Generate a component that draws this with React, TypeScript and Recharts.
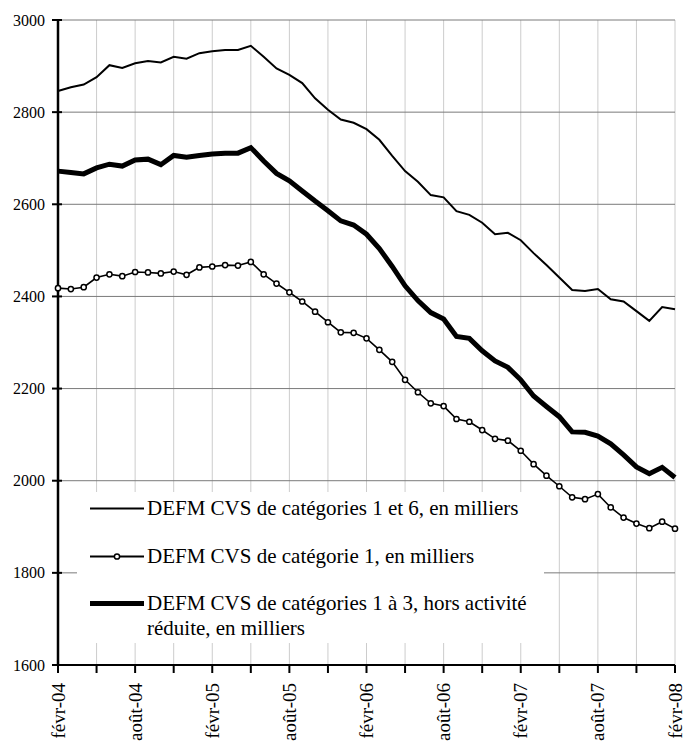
import React from "react";
import { LineChart, Line, XAxis, YAxis, CartesianGrid } from "recharts";

const months = [
  "févr-04","mars-04","avr-04","mai-04","juin-04","juil-04","août-04","sept-04","oct-04","nov-04","déc-04","janv-05",
  "févr-05","mars-05","avr-05","mai-05","juin-05","juil-05","août-05","sept-05","oct-05","nov-05","déc-05","janv-06",
  "févr-06","mars-06","avr-06","mai-06","juin-06","juil-06","août-06","sept-06","oct-06","nov-06","déc-06","janv-07",
  "févr-07","mars-07","avr-07","mai-07","juin-07","juil-07","août-07","sept-07","oct-07","nov-07","déc-07","janv-08",
  "févr-08",
];

const cat16 = [
  2846, 2854, 2860, 2876, 2902, 2896, 2906, 2911, 2908, 2920, 2916, 2928,
  2932, 2935, 2935, 2944, 2920, 2895, 2881, 2863, 2830, 2805, 2784, 2777,
  2763, 2740, 2705, 2672, 2649, 2620, 2615, 2585, 2577, 2560, 2535, 2538,
  2522, 2494, 2468, 2441, 2414, 2412, 2416, 2394, 2389, 2368, 2347, 2377,
  2372,
];

const cat1 = [
  2418, 2416, 2420, 2441, 2448, 2444, 2453, 2452, 2450, 2454, 2447, 2463,
  2465, 2468, 2467, 2475, 2448, 2428, 2409, 2389, 2367, 2344, 2322, 2321,
  2309, 2284, 2258, 2219, 2192, 2168, 2162, 2134, 2128, 2110, 2091, 2087,
  2065, 2036, 2011, 1988, 1964, 1960, 1971, 1942, 1920, 1907, 1897, 1911,
  1896,
];

const cat13 = [
  2672, 2669, 2666, 2679, 2687, 2683, 2696, 2698, 2686, 2706, 2702, 2706,
  2709, 2711, 2711, 2723, 2694, 2667, 2651, 2629, 2607, 2586, 2564, 2555,
  2535, 2504, 2465, 2423, 2391, 2365, 2351, 2313, 2309, 2282, 2260, 2246,
  2219, 2184, 2161, 2139, 2106, 2105, 2097, 2080, 2056, 2030, 2015, 2029,
  2007,
];

const yTicks = [1600, 1800, 2000, 2200, 2400, 2600, 2800, 3000];
const xTicks = [0, 3, 6, 9, 12, 15, 18, 21, 24, 27, 30, 33, 36, 39, 42, 45, 48];

const legendLabels = [
  "DEFM CVS de catégories 1 et 6, en milliers",
  "DEFM CVS de catégorie 1, en milliers",
  "DEFM CVS de catégories 1 à 3, hors activité réduite, en milliers",
];

const data = months.map((m, i) => ({
  i,
  label: m,
  a: cat16[i],
  b: cat1[i],
  c: cat13[i],
}));

const FONT = '"Liberation Serif", "Times New Roman", serif';

const YTick = (props: any) => {
  const { x, y, payload } = props;
  return (
    <g>
      <line x1={x - 6} x2={x + 4} y1={y} y2={y} stroke="#000" strokeWidth={2} />
      <text
        x={x - 13}
        y={y}
        textAnchor="end"
        dominantBaseline="central"
        fontFamily={FONT}
        fontSize={16}
        fill="#000"
      >
        {payload.value}
      </text>
    </g>
  );
};

const XTick = (props: any) => {
  const { x, y, payload } = props;
  const idx = payload.value as number;
  const show = idx % 6 === 0;
  return (
    <g>
      <line x1={x} x2={x} y1={y} y2={y + 8} stroke="#000" strokeWidth={2} />
      {show && (
        <text
          transform={`translate(${x},${y + 18}) rotate(-90)`}
          textAnchor="end"
          dominantBaseline="central"
          fontFamily={FONT}
          fontSize={19}
          fill="#000"
        >
          {months[idx]}
        </text>
      )}
    </g>
  );
};

const LegendBox = () => {
  const row = (label: string, kind: number, top: number) => (
    <div
      key={label}
      style={{ position: "absolute", left: 0, top, display: "flex", alignItems: "flex-start" }}
    >
      <svg width={70} height={25} style={{ flex: "none" }}>
        <line
          x1={13}
          x2={67}
          y1={12.5}
          y2={12.5}
          stroke="#000"
          strokeWidth={kind === 2 ? 5 : 2}
        />
        {kind === 1 && (
          <circle cx={40} cy={12.5} r={2.6} fill="#fff" stroke="#000" strokeWidth={1.5} />
        )}
      </svg>
      <div
        style={{
          fontFamily: FONT,
          fontSize: 21,
          lineHeight: "25px",
          color: "#000",
          width: 400,
        }}
      >
        {label}
      </div>
    </div>
  );
  return (
    <div
      style={{
        position: "absolute",
        left: 77,
        top: 492,
        width: 467,
        height: 151,
        background: "#fff",
      }}
    >
      {row(legendLabels[0], 0, 3.5)}
      {row(legendLabels[1], 1, 51.5)}
      {row(legendLabels[2], 2, 98.5)}
    </div>
  );
};

export default function App() {
  return (
    <div style={{ position: "absolute", left: 0, top: 0, width: 685, height: 744, background: "#fff" }}>
      <LineChart
        width={685}
        height={744}
        data={data}
        margin={{ top: 20, right: 10, bottom: 0, left: 0 }}
      >
        <CartesianGrid horizontal={false} vertical={true} stroke="#cccccc" strokeWidth={1} />
        <CartesianGrid horizontal={true} vertical={false} stroke="#7a7a7a" strokeWidth={1} />
        <XAxis
          dataKey="i"
          type="number"
          domain={[0, 48]}
          ticks={xTicks}
          interval={0}
          height={79}
          tickSize={0}
          tickMargin={0}
          axisLine={{ stroke: "#000", strokeWidth: 2 }}
          tickLine={false}
          tick={<XTick />}
        />
        <YAxis
          type="number"
          domain={[1600, 3000]}
          ticks={yTicks}
          interval={0}
          width={58}
          tickSize={0}
          tickMargin={0}
          axisLine={{ stroke: "#000", strokeWidth: 2.5 }}
          tickLine={false}
          tick={<YTick />}
        />
        <Line dataKey="a" stroke="#000" strokeWidth={2} dot={false} isAnimationActive={false} />
        <Line
          dataKey="b"
          stroke="#000"
          strokeWidth={1.6}
          dot={{ r: 2.6, fill: "#fff", stroke: "#000", strokeWidth: 1.5 }}
          isAnimationActive={false}
        />
        <Line dataKey="c" stroke="#000" strokeWidth={5} dot={false} isAnimationActive={false} />
      </LineChart>
      <LegendBox />
    </div>
  );
}
